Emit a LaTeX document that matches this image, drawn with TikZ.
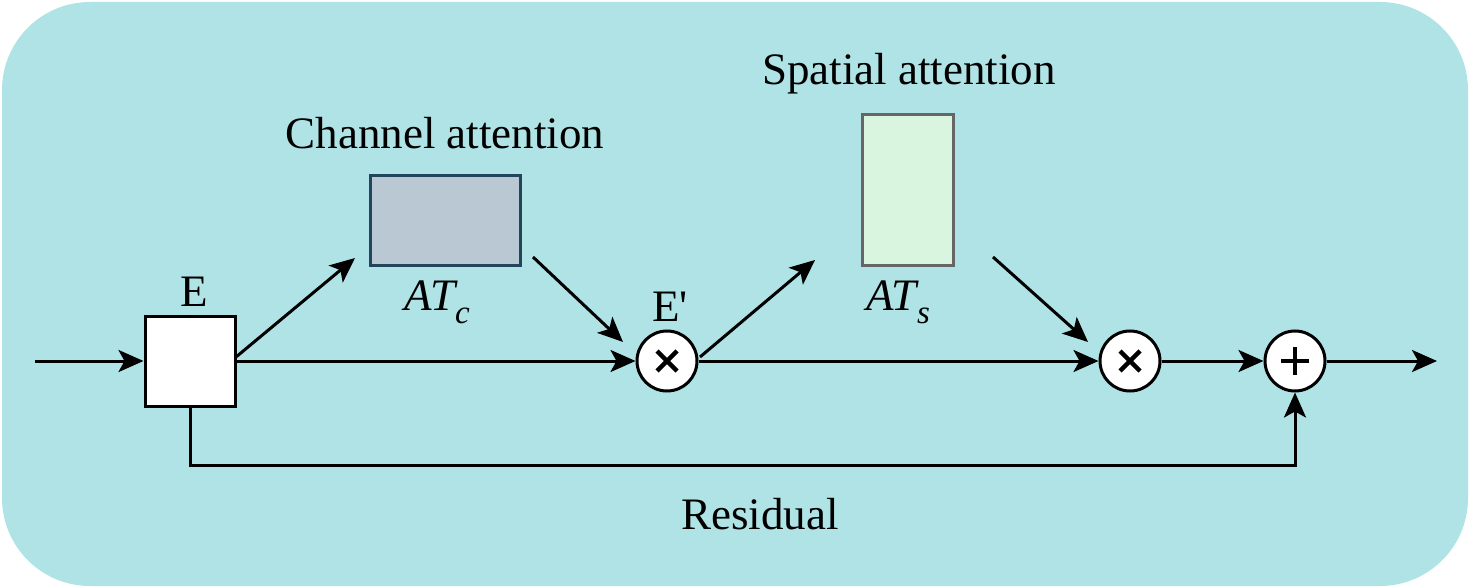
\documentclass[tikz,border=0pt]{standalone}
\usepackage{fontspec}
\setmainfont{Liberation Serif}
\usetikzlibrary{arrows.meta,calc}
\definecolor{bgc}{HTML}{B0E3E6}
\definecolor{chfill}{HTML}{BAC8D3}
\definecolor{chdraw}{HTML}{23445D}
\definecolor{spfill}{HTML}{D9F5DF}
\definecolor{spdraw}{HTML}{666666}
\begin{document}
\begin{tikzpicture}[x=1pt,y=-1pt,
  conn/.style={line width=3pt,-{Stealth[length=25pt,width=22pt,inset=6pt]}},
  opcirc/.style={circle,draw=black,fill=white,line width=3pt,minimum size=60pt,inner sep=0pt},
  lbl/.style={font=\fontsize{45}{50}\selectfont,inner sep=0pt},
  sym/.style={line width=4.5pt}]
\useasboundingbox (0,0) rectangle (1470,588);
\fill[bgc,rounded corners=88pt] (2,2) rectangle (1468,586);

% E box
\node[draw=black,fill=white,line width=3pt,minimum width=90pt,minimum height=90pt,inner sep=0pt] (E) at (190,361) {};
\node[lbl] (Elbl) at (194,292) {E};

% Channel attention box
\node[draw=chdraw,fill=chfill,line width=3pt,minimum width=150pt,minimum height=89pt,inner sep=0pt] (CA) at (445,220.5) {};
\node[lbl] (CAlbl) at (445,133) {Channel attention};
\node[lbl] (ATc) at (437,302) {\itshape AT\raisebox{-13pt}{\fontsize{33}{33}\selectfont c}};

% Spatial attention box
\node[draw=spdraw,fill=spfill,line width=3pt,minimum width=91pt,minimum height=150pt,inner sep=0pt] (SA) at (907.5,190) {};
\node[lbl] (SAlbl) at (909,74) {Spatial attention};
\node[lbl] (ATs) at (898,302) {\itshape AT\raisebox{-13pt}{\fontsize{33}{33}\selectfont s}};

% operator circles
\node[opcirc] (M1) at (667,361) {};
\node[opcirc] (M2) at (1130,361) {};
\node[opcirc] (P) at (1295,361) {};
\node[lbl] (Eplbl) at (670,307) {E\textquotesingle};
\node[lbl] (Reslbl) at (760,514) {Residual};

% symbols
\draw[sym] ($(M1)+(-10,-10)$) -- ($(M1)+(10,10)$) ($(M1)+(-10,10)$) -- ($(M1)+(10,-10)$);
\draw[sym] ($(M2)+(-10,-10)$) -- ($(M2)+(10,10)$) ($(M2)+(-10,10)$) -- ($(M2)+(10,-10)$);
\draw[sym] ($(P)+(-14,0)$) -- ($(P)+(14,0)$) ($(P)+(0,-14)$) -- ($(P)+(0,14)$);

% coordinates
\coordinate (in) at (35,361);
\coordinate (out) at (1437,361);
\coordinate (a1s) at (236,357);
\coordinate (a1e) at (355,258);
\coordinate (a2s) at (533,257);
\coordinate (a2e) at (623,342);
\coordinate (a3s) at (700,357);
\coordinate (a3e) at (815,260);
\coordinate (a4s) at (993,257);
\coordinate (a4e) at (1088,342);
\coordinate (r1) at (190,465);
\coordinate (r2) at (1295,465);

% connectors
\draw[conn] (in) -- (E.west);
\draw[conn] (E.east) -- (M1.west);
\draw[conn] (M1.east) -- (M2.west);
\draw[conn] (M2.east) -- (P.west);
\draw[conn] (P.east) -- (out);
\draw[conn] (a1s) -- (a1e);
\draw[conn] (a2s) -- (a2e);
\draw[conn] (a3s) -- (a3e);
\draw[conn] (a4s) -- (a4e);
\draw[conn] (E.south) -- (r1) -- (r2) -- (P.south);
\end{tikzpicture}
\end{document}
